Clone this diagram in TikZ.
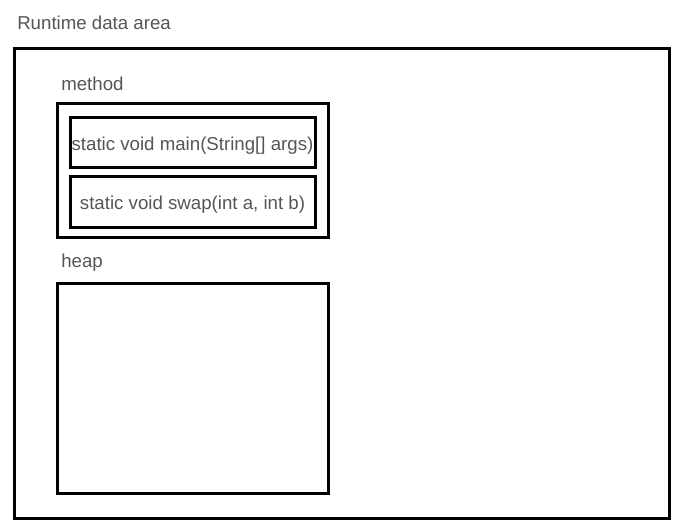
\documentclass[tikz,border=0pt]{standalone}
\usepackage{fontspec}
\setmainfont{Liberation Sans}
\definecolor{txt}{HTML}{555555}
\begin{document}
\begin{tikzpicture}[x=0.75pt,y=-0.75pt,
  box/.style={draw=black,line width=2.25pt},
  lbl/.style={text=txt,font=\fontsize{14}{16}\selectfont,inner sep=0pt,anchor=west},
  inbox/.style={text=txt,font=\fontsize{14}{16}\selectfont,inner sep=0pt}]
\useasboundingbox (0,0) rectangle (685,531);
\node[lbl] (title) at (17,23) {Runtime data area};
\draw[box] (14,49) rectangle (669,518);
\node[lbl] (mlbl) at (61,84) {method};
\draw[box] (57,104) rectangle (328,237);
\draw[box] (70,118) rectangle (315,168);
\node[inbox] (main) at (192.5,146) {static void main(String[] args)};
\draw[box] (70,177) rectangle (315,227);
\node[inbox] (swap) at (192.5,205) {static void swap(int a, int b)};
\node[lbl] (hlbl) at (61,263) {heap};
\draw[box] (57,283) rectangle (328,493);
\end{tikzpicture}
\end{document}
